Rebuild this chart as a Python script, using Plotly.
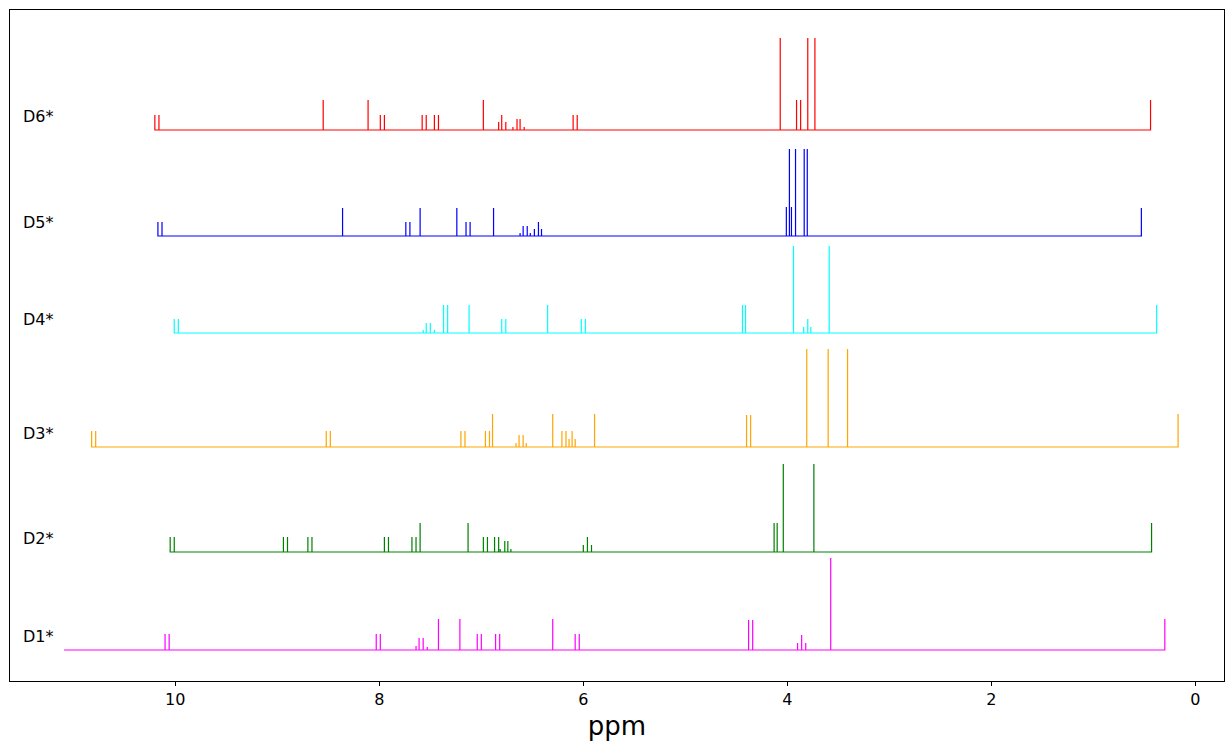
import plotly.graph_objects as go

# Stacked 1H NMR stick spectra (chemical shift in ppm, relative intensity)
labels = ["D1*", "D2*", "D3*", "D4*", "D5*", "D6*"]
colors = ["#ff00ff", "#008000", "#ffa500", "#00ffff", "#0000ff", "#ff0000"]
offsets = [0, 98, 203, 317, 414, 520]

d1_ppm = [10.10, 10.06, 8.03, 7.99, 7.64, 7.61, 7.57, 7.53, 7.42, 7.21, 7.04, 7.00,
          6.86, 6.82, 6.30, 6.08, 6.04, 4.38, 4.34, 3.90, 3.86, 3.82, 3.575, 0.30]
d1_int = [16, 16, 16, 16, 4, 12, 12, 3, 31, 31, 16, 16,
          16, 16, 31, 16, 16, 30, 30, 7, 15, 7, 92, 31]
d1_start = 11.09

d2_ppm = [10.05, 10.01, 8.94, 8.90, 8.70, 8.66, 7.95, 7.91, 7.68, 7.64, 7.60, 7.13,
          6.98, 6.94, 6.87, 6.83, 6.815, 6.77, 6.74, 6.71, 6.00, 5.96, 5.92,
          4.13, 4.10, 4.04, 3.74, 0.43]
d2_int = [15, 15, 15, 15, 15, 15, 15, 15, 15, 15, 29, 29,
          15, 15, 15, 15, 3, 11, 11, 3, 7, 15, 7,
          29, 29, 88, 88, 29]

d3_ppm = [10.82, 10.78, 8.52, 8.48, 7.20, 7.16, 6.96, 6.92, 6.89, 6.66, 6.63, 6.59, 6.56,
          6.30, 6.21, 6.17, 6.14, 6.11, 6.08, 5.89, 4.40, 4.36, 3.81, 3.60, 3.41, 0.17]
d3_int = [16, 16, 16, 16, 16, 16, 16, 16, 33, 4, 12, 12, 4,
          33, 16, 16, 8, 16, 8, 33, 32, 32, 98, 98, 98, 33]

d4_ppm = [10.01, 9.97, 7.57, 7.54, 7.50, 7.46, 7.37, 7.33, 7.12, 6.80, 6.76, 6.35,
          6.02, 5.98, 4.44, 4.41, 3.94, 3.84, 3.80, 3.77, 3.59, 0.38]
d4_int = [14, 14, 3, 10, 10, 3, 28, 28, 28, 14, 14, 28,
          14, 14, 28, 28, 87, 6, 14, 6, 87, 28]

d5_ppm = [10.17, 10.13, 8.36, 7.74, 7.70, 7.60, 7.24, 7.15, 7.11, 6.88,
          6.62, 6.59, 6.55, 6.52, 6.48, 6.44, 6.41,
          4.01, 3.98, 3.96, 3.92, 3.835, 3.805, 0.53]
d5_int = [14, 14, 28, 14, 14, 28, 28, 14, 14, 28,
          3, 10, 10, 3, 7, 14, 7,
          29, 87, 29, 87, 87, 87, 28]

d6_ppm = [10.20, 10.16, 8.55, 8.11, 7.99, 7.95, 7.58, 7.54, 7.46, 7.42, 6.98,
          6.83, 6.80, 6.76, 6.69, 6.65, 6.62, 6.58, 6.10, 6.06,
          4.07, 3.91, 3.87, 3.80, 3.73, 0.44]
d6_int = [15, 15, 30, 30, 15, 15, 15, 15, 15, 15, 30,
          8, 15, 8, 3, 11, 11, 3, 15, 15,
          92, 30, 30, 92, 92, 30]

spectra = [
    (d1_ppm, d1_int, d1_start),
    (d2_ppm, d2_int, None),
    (d3_ppm, d3_int, None),
    (d4_ppm, d4_int, None),
    (d5_ppm, d5_int, None),
    (d6_ppm, d6_int, None),
]

fig = go.Figure()

for (ppm, inten, start), off, color, name in zip(spectra, offsets, colors, labels):
    xs, ys = [], []
    if start is not None:
        xs.append(start)
        ys.append(off)
    for p, h in sorted(zip(ppm, inten), key=lambda t: -t[0]):
        xs += [p, p, p]
        ys += [off, off + h, off]
    fig.add_trace(go.Scatter(x=xs, y=ys, mode="lines", name=name,
                             line=dict(color=color, width=1.2), showlegend=False,
                             hoverinfo="skip"))
    fig.add_annotation(x=11.51, y=off + 14, text=name, showarrow=False,
                       xanchor="left", yanchor="middle",
                       font=dict(family="DejaVu Sans", size=16, color="#000000"))

fig.update_layout(
    width=1225, height=744,
    margin=dict(l=10, r=1, t=10, b=63),
    paper_bgcolor="white", plot_bgcolor="white",
    font=dict(family="DejaVu Sans", color="#000000"),
)
fig.update_xaxes(
    range=[11.62, -0.28], tickvals=[0, 2, 4, 6, 8, 10],
    showline=True, linecolor="black", linewidth=1, mirror=True,
    ticks="outside", ticklen=4, tickcolor="black", tickwidth=1,
    tickfont=dict(size=16), showgrid=False, zeroline=False,
    title=dict(text="ppm", font=dict(size=26), standoff=8),
)
fig.update_yaxes(
    range=[-31, 640], showline=True, linecolor="black", linewidth=1, mirror=True,
    showticklabels=False, ticks="", showgrid=False, zeroline=False,
)

fig.write_html("out.html")
